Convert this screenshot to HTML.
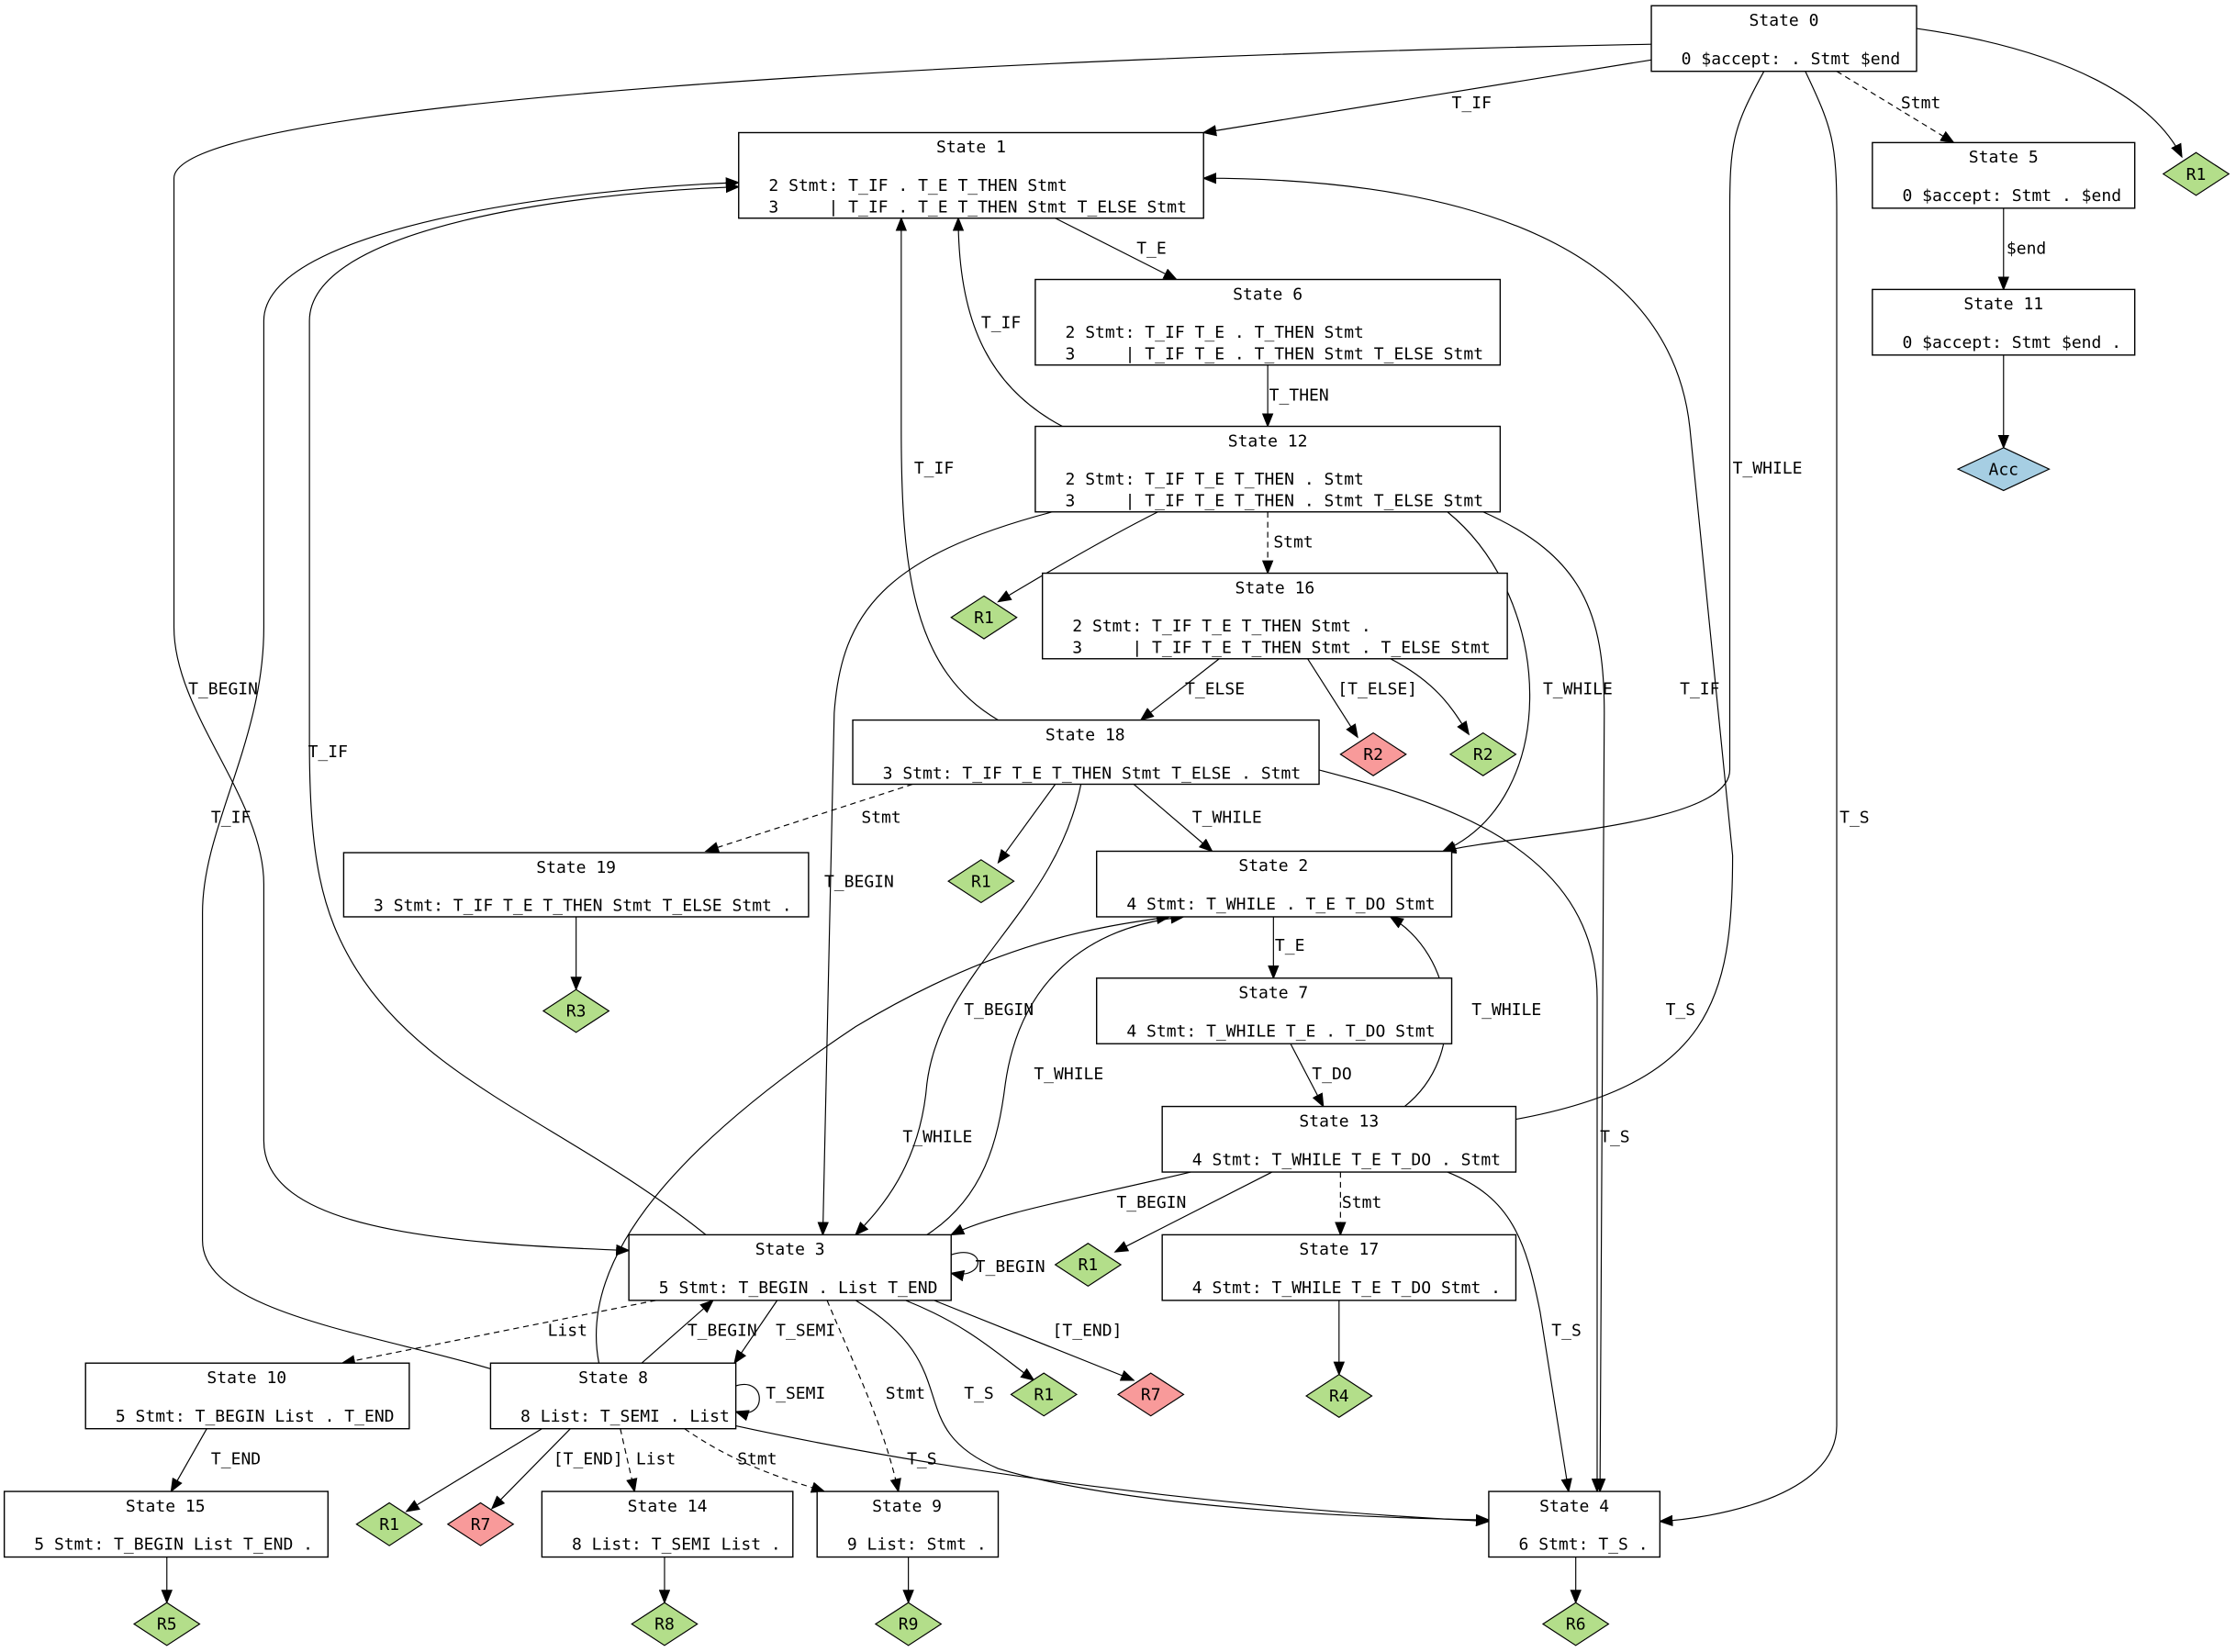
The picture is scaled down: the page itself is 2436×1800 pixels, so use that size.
<!DOCTYPE html>
<html><head><meta charset="utf-8"><style>
html,body{margin:0;padding:0;background:#fff;}
svg{display:block}
text{font-family:"DejaVu Sans Mono","Liberation Mono",monospace;font-size:11.6px;fill:#000}
.b{fill:#fff;stroke:#000;stroke-width:0.9}
.e{fill:none;stroke:#000;stroke-width:0.75}
.d{fill:none;stroke:#000;stroke-width:0.75;stroke-dasharray:4,3}
.g{fill:#b3de8a;stroke:#000;stroke-width:0.75}
.r{fill:#f89a9a;stroke:#000;stroke-width:0.75}
.a{fill:#a6cee3;stroke:#000;stroke-width:0.75}
</style></head><body>
<svg width="2436" height="1800" viewBox="0 0 1568 1158.6" xmlns="http://www.w3.org/2000/svg">
<defs><marker id="m" markerWidth="10" markerHeight="8" refX="9" refY="4" orient="auto" markerUnits="userSpaceOnUse"><path d="M0,0 L10,4 L0,8 z" fill="#000"/></marker></defs>
<g marker-end="url(#m)">
<path class="e" d="M1158,42 L844,93"/>
<path class="e" d="M1158,31 C700,40 122,70 122,125 L122,440 C122,500 185,560 185,620 L185,800 C185,860 300,872 441,877"/>
<path class="e" d="M1237,50 C1215,90 1213,100 1213,150 L1213,540 C1213,580 1060,585 1012,597"/>
<path class="e" d="M1266,50 C1285,90 1288,100 1288,150 L1288,1000 C1288,1050 1200,1065 1164,1067"/>
<path class="d" d="M1288,50 L1370,100"/>
<path class="e" d="M1344,20 C1450,35 1510,70 1530,110"/>
<path class="e" d="M1405,146 L1405,203"/>
<path class="e" d="M1405,249 L1405,314"/>
<path class="e" d="M740,153 L825,196"/>
<path class="e" d="M889,256 L889,299"/>
<path class="e" d="M745,299 C690,270 672,220 672,153"/>
<path class="d" d="M889,359 L889,402"/>
<path class="e" d="M812,359 C770,380 720,410 700,422"/>
<path class="e" d="M738,359 C620,390 590,430 585,500 L577,866"/>
<path class="e" d="M1015,359 C1090,420 1095,560 1012,597"/>
<path class="e" d="M1040,359 C1110,390 1125,430 1125,500 L1122,1046"/>
<path class="e" d="M855,462 L800,505"/>
<path class="e" d="M917,462 L952,517"/>
<path class="e" d="M975,462 C1010,480 1020,500 1030,515"/>
<path class="e" d="M700,505 C640,470 632,400 632,300 L632,153"/>
<path class="d" d="M640,550 L495,597"/>
<path class="e" d="M740,550 L700,605"/>
<path class="e" d="M795,550 L850,597"/>
<path class="e" d="M758,550 C740,640 660,680 650,760 C645,820 615,850 600,866"/>
<path class="e" d="M925,540 C1000,560 1120,590 1120,700 L1120,1046"/>
<path class="e" d="M404,643 L404,694"/>
<path class="e" d="M893,643 L893,686"/>
<path class="e" d="M905,732 L928,776"/>
<path class="e" d="M985,776 C1030,740 1020,670 975,643"/>
<path class="e" d="M1063,785 C1200,760 1215,700 1215,600 L1185,300 C1170,160 1000,125 844,125"/>
<path class="e" d="M835,822 C760,840 700,850 667,866"/>
<path class="e" d="M892,822 L782,878"/>
<path class="d" d="M940,822 L940,866"/>
<path class="e" d="M1015,822 C1060,840 1070,870 1080,920 L1100,1046"/>
<path class="e" d="M939,912 L939,964"/>
<path class="e" d="M650,866 C690,840 700,800 705,760 C715,690 760,650 830,643"/>
<path class="e" d="M495,866 C400,790 300,760 250,680 C225,640 217,600 217,520 L217,225 C217,160 400,135 518,131"/>
<path class="e" d="M667,880 C692,872 692,898 667,893"/>
<path class="d" d="M460,912 L240,956"/>
<path class="e" d="M545,912 L515,956"/>
<path class="d" d="M580,912 C600,960 620,1000 630,1046"/>
<path class="e" d="M600,912 C680,960 630,1000 700,1030 C800,1060 980,1065 1044,1066"/>
<path class="e" d="M635,912 C680,930 700,950 725,968"/>
<path class="e" d="M655,912 L795,968"/>
<path class="e" d="M450,956 L500,912"/>
<path class="e" d="M420,956 C405,880 480,800 600,720 C700,660 770,650 820,643"/>
<path class="e" d="M344,960 C260,935 142,920 142,870 L142,640 C142,580 185,520 185,440 L185,225 C185,160 400,132 518,128"/>
<path class="e" d="M516,972 C538,965 538,997 516,990"/>
<path class="e" d="M380,1002 L285,1060"/>
<path class="e" d="M400,1002 L345,1058"/>
<path class="d" d="M435,1002 L445,1046"/>
<path class="d" d="M480,1002 C520,1030 560,1040 578,1046"/>
<path class="e" d="M516,1000 C700,1040 900,1060 1044,1067"/>
<path class="e" d="M145,1002 L120,1046"/>
<path class="e" d="M117,1092 L117,1124"/>
<path class="e" d="M466,1092 L466,1124"/>
<path class="e" d="M637,1092 L637,1124"/>
<path class="e" d="M1105,1092 L1105,1124"/>
</g>
<!-- labels -->
<text x="1018" y="76">T_IF</text>
<text x="132" y="487">T_BEGIN</text>
<text x="1215" y="332">T_WHILE</text>
<text x="1290" y="577">T_S</text>
<text x="1333" y="76">Stmt</text>
<text x="1407" y="178">$end</text>
<text x="797" y="178">T_E</text>
<text x="890" y="281">T_THEN</text>
<text x="688" y="230">T_IF</text>
<text x="893" y="384">Stmt</text>
<text x="578" y="622">T_BEGIN</text>
<text x="1082" y="487">T_WHILE</text>
<text x="1168" y="712">T_S</text>
<text x="831" y="487">T_ELSE</text>
<text x="938" y="487">[T_ELSE]</text>
<text x="641" y="332">T_IF</text>
<text x="604" y="577">Stmt</text>
<text x="836" y="577">T_WHILE</text>
<text x="676" y="712">T_BEGIN</text>
<text x="1122" y="801">T_S</text>
<text x="894" y="667">T_E</text>
<text x="920" y="757">T_DO</text>
<text x="1032" y="712">T_WHILE</text>
<text x="1178" y="487">T_IF</text>
<text x="783" y="847">T_BEGIN</text>
<text x="941" y="847">Stmt</text>
<text x="1088" y="937">T_S</text>
<text x="725" y="757">T_WHILE</text>
<text x="216" y="531">T_IF</text>
<text x="684" y="892">T_BEGIN</text>
<text x="384" y="937">List</text>
<text x="544" y="937">T_SEMI</text>
<text x="621" y="981">Stmt</text>
<text x="676" y="981">T_S</text>
<text x="738" y="937">[T_END]</text>
<text x="482" y="937">T_BEGIN</text>
<text x="633" y="801">T_WHILE</text>
<text x="148" y="577">T_IF</text>
<text x="537" y="981">T_SEMI</text>
<text x="388" y="1027">[T_END]</text>
<text x="446" y="1027">List</text>
<text x="517" y="1027">Stmt</text>
<text x="636" y="1027">T_S</text>
<text x="148" y="1027">T_END</text>
<!-- nodes -->
<rect class="b" x="1158" y="4" width="186" height="46"/>
<text x="1251" y="18" text-anchor="middle">State 0</text>
<text x="1179" y="45">0 $accept: . Stmt $end</text>
<rect class="b" x="518" y="93" width="326" height="60"/>
<text x="681" y="107" text-anchor="middle">State 1</text>
<text x="539" y="134" xml:space="preserve">2 Stmt: T_IF . T_E T_THEN Stmt</text>
<text x="539" y="149" xml:space="preserve">3     | T_IF . T_E T_THEN Stmt T_ELSE Stmt</text>
<rect class="b" x="1313" y="100" width="184" height="46"/>
<text x="1405" y="114" text-anchor="middle">State 5</text>
<text x="1334" y="141">0 $accept: Stmt . $end</text>
<rect class="b" x="726" y="196" width="326" height="60"/>
<text x="889" y="210" text-anchor="middle">State 6</text>
<text x="747" y="237" xml:space="preserve">2 Stmt: T_IF T_E . T_THEN Stmt</text>
<text x="747" y="252" xml:space="preserve">3     | T_IF T_E . T_THEN Stmt T_ELSE Stmt</text>
<rect class="b" x="1313" y="203" width="184" height="46"/>
<text x="1405" y="217" text-anchor="middle">State 11</text>
<text x="1334" y="244">0 $accept: Stmt $end .</text>
<rect class="b" x="726" y="299" width="326" height="60"/>
<text x="889" y="313" text-anchor="middle">State 12</text>
<text x="747" y="340" xml:space="preserve">2 Stmt: T_IF T_E T_THEN . Stmt</text>
<text x="747" y="355" xml:space="preserve">3     | T_IF T_E T_THEN . Stmt T_ELSE Stmt</text>
<rect class="b" x="731" y="402" width="326" height="60"/>
<text x="894" y="416" text-anchor="middle">State 16</text>
<text x="752" y="443" xml:space="preserve">2 Stmt: T_IF T_E T_THEN Stmt .</text>
<text x="752" y="458" xml:space="preserve">3     | T_IF T_E T_THEN Stmt . T_ELSE Stmt</text>
<rect class="b" x="598" y="505" width="327" height="45"/>
<text x="761" y="519" text-anchor="middle">State 18</text>
<text x="619" y="546">3 Stmt: T_IF T_E T_THEN Stmt T_ELSE . Stmt</text>
<rect class="b" x="241" y="598" width="326" height="45"/>
<text x="404" y="612" text-anchor="middle">State 19</text>
<text x="262" y="639">3 Stmt: T_IF T_E T_THEN Stmt T_ELSE Stmt .</text>
<rect class="b" x="769" y="597" width="249" height="46"/>
<text x="893" y="611" text-anchor="middle">State 2</text>
<text x="790" y="638">4 Stmt: T_WHILE . T_E T_DO Stmt</text>
<rect class="b" x="769" y="686" width="249" height="46"/>
<text x="893" y="700" text-anchor="middle">State 7</text>
<text x="790" y="727">4 Stmt: T_WHILE T_E . T_DO Stmt</text>
<rect class="b" x="815" y="776" width="248" height="46"/>
<text x="939" y="790" text-anchor="middle">State 13</text>
<text x="836" y="817">4 Stmt: T_WHILE T_E T_DO . Stmt</text>
<rect class="b" x="441" y="866" width="226" height="46"/>
<text x="554" y="880" text-anchor="middle">State 3</text>
<text x="462" y="907">5 Stmt: T_BEGIN . List T_END</text>
<rect class="b" x="815" y="866" width="248" height="46"/>
<text x="939" y="880" text-anchor="middle">State 17</text>
<text x="836" y="907">4 Stmt: T_WHILE T_E T_DO Stmt .</text>
<rect class="b" x="60" y="956" width="227" height="46"/>
<text x="173" y="970" text-anchor="middle">State 10</text>
<text x="81" y="997">5 Stmt: T_BEGIN List . T_END</text>
<rect class="b" x="344" y="956" width="172" height="46"/>
<text x="430" y="970" text-anchor="middle">State 8</text>
<text x="365" y="997">8 List: T_SEMI . List</text>
<rect class="b" x="3" y="1046" width="227" height="46"/>
<text x="116" y="1060" text-anchor="middle">State 15</text>
<text x="24" y="1087">5 Stmt: T_BEGIN List T_END .</text>
<rect class="b" x="380" y="1046" width="176" height="46"/>
<text x="468" y="1060" text-anchor="middle">State 14</text>
<text x="401" y="1087">8 List: T_SEMI List .</text>
<rect class="b" x="573" y="1046" width="127" height="46"/>
<text x="636" y="1060" text-anchor="middle">State 9</text>
<text x="594" y="1087">9 List: Stmt .</text>
<rect class="b" x="1044" y="1046" width="120" height="46"/>
<text x="1104" y="1060" text-anchor="middle">State 4</text>
<text x="1065" y="1087">6 Stmt: T_S .</text>
<!-- diamonds -->
<g text-anchor="middle">
<path class="g" d="M1540,107 L1563,122 L1540,137 L1517,122 z"/><text x="1540" y="126">R1</text>
<path class="a" d="M1405,314 L1437,329 L1405,344 L1373,329 z"/><text x="1405" y="333">Acc</text>
<path class="g" d="M690,418 L713,433 L690,448 L667,433 z"/><text x="690" y="437">R1</text>
<path class="r" d="M963,514 L986,529 L963,544 L940,529 z"/><text x="963" y="533">R2</text>
<path class="g" d="M1040,514 L1063,529 L1040,544 L1017,529 z"/><text x="1040" y="533">R2</text>
<path class="g" d="M688,603 L711,618 L688,633 L665,618 z"/><text x="688" y="622">R1</text>
<path class="g" d="M404,694 L427,709 L404,724 L381,709 z"/><text x="404" y="713">R3</text>
<path class="g" d="M763,872 L786,887 L763,902 L740,887 z"/><text x="763" y="891">R1</text>
<path class="g" d="M732,963 L755,978 L732,993 L709,978 z"/><text x="732" y="982">R1</text>
<path class="r" d="M807,963 L830,978 L807,993 L784,978 z"/><text x="807" y="982">R7</text>
<path class="g" d="M939,964 L962,979 L939,994 L916,979 z"/><text x="939" y="983">R4</text>
<path class="g" d="M273,1054 L296,1069 L273,1084 L250,1069 z"/><text x="273" y="1073">R1</text>
<path class="r" d="M337,1054 L360,1069 L337,1084 L314,1069 z"/><text x="337" y="1073">R7</text>
<path class="g" d="M117,1124 L140,1139 L117,1154 L94,1139 z"/><text x="117" y="1143">R5</text>
<path class="g" d="M466,1124 L489,1139 L466,1154 L443,1139 z"/><text x="466" y="1143">R8</text>
<path class="g" d="M637,1124 L660,1139 L637,1154 L614,1139 z"/><text x="637" y="1143">R9</text>
<path class="g" d="M1105,1124 L1128,1139 L1105,1154 L1082,1139 z"/><text x="1105" y="1143">R6</text>
</g>
</svg>
</body></html>
